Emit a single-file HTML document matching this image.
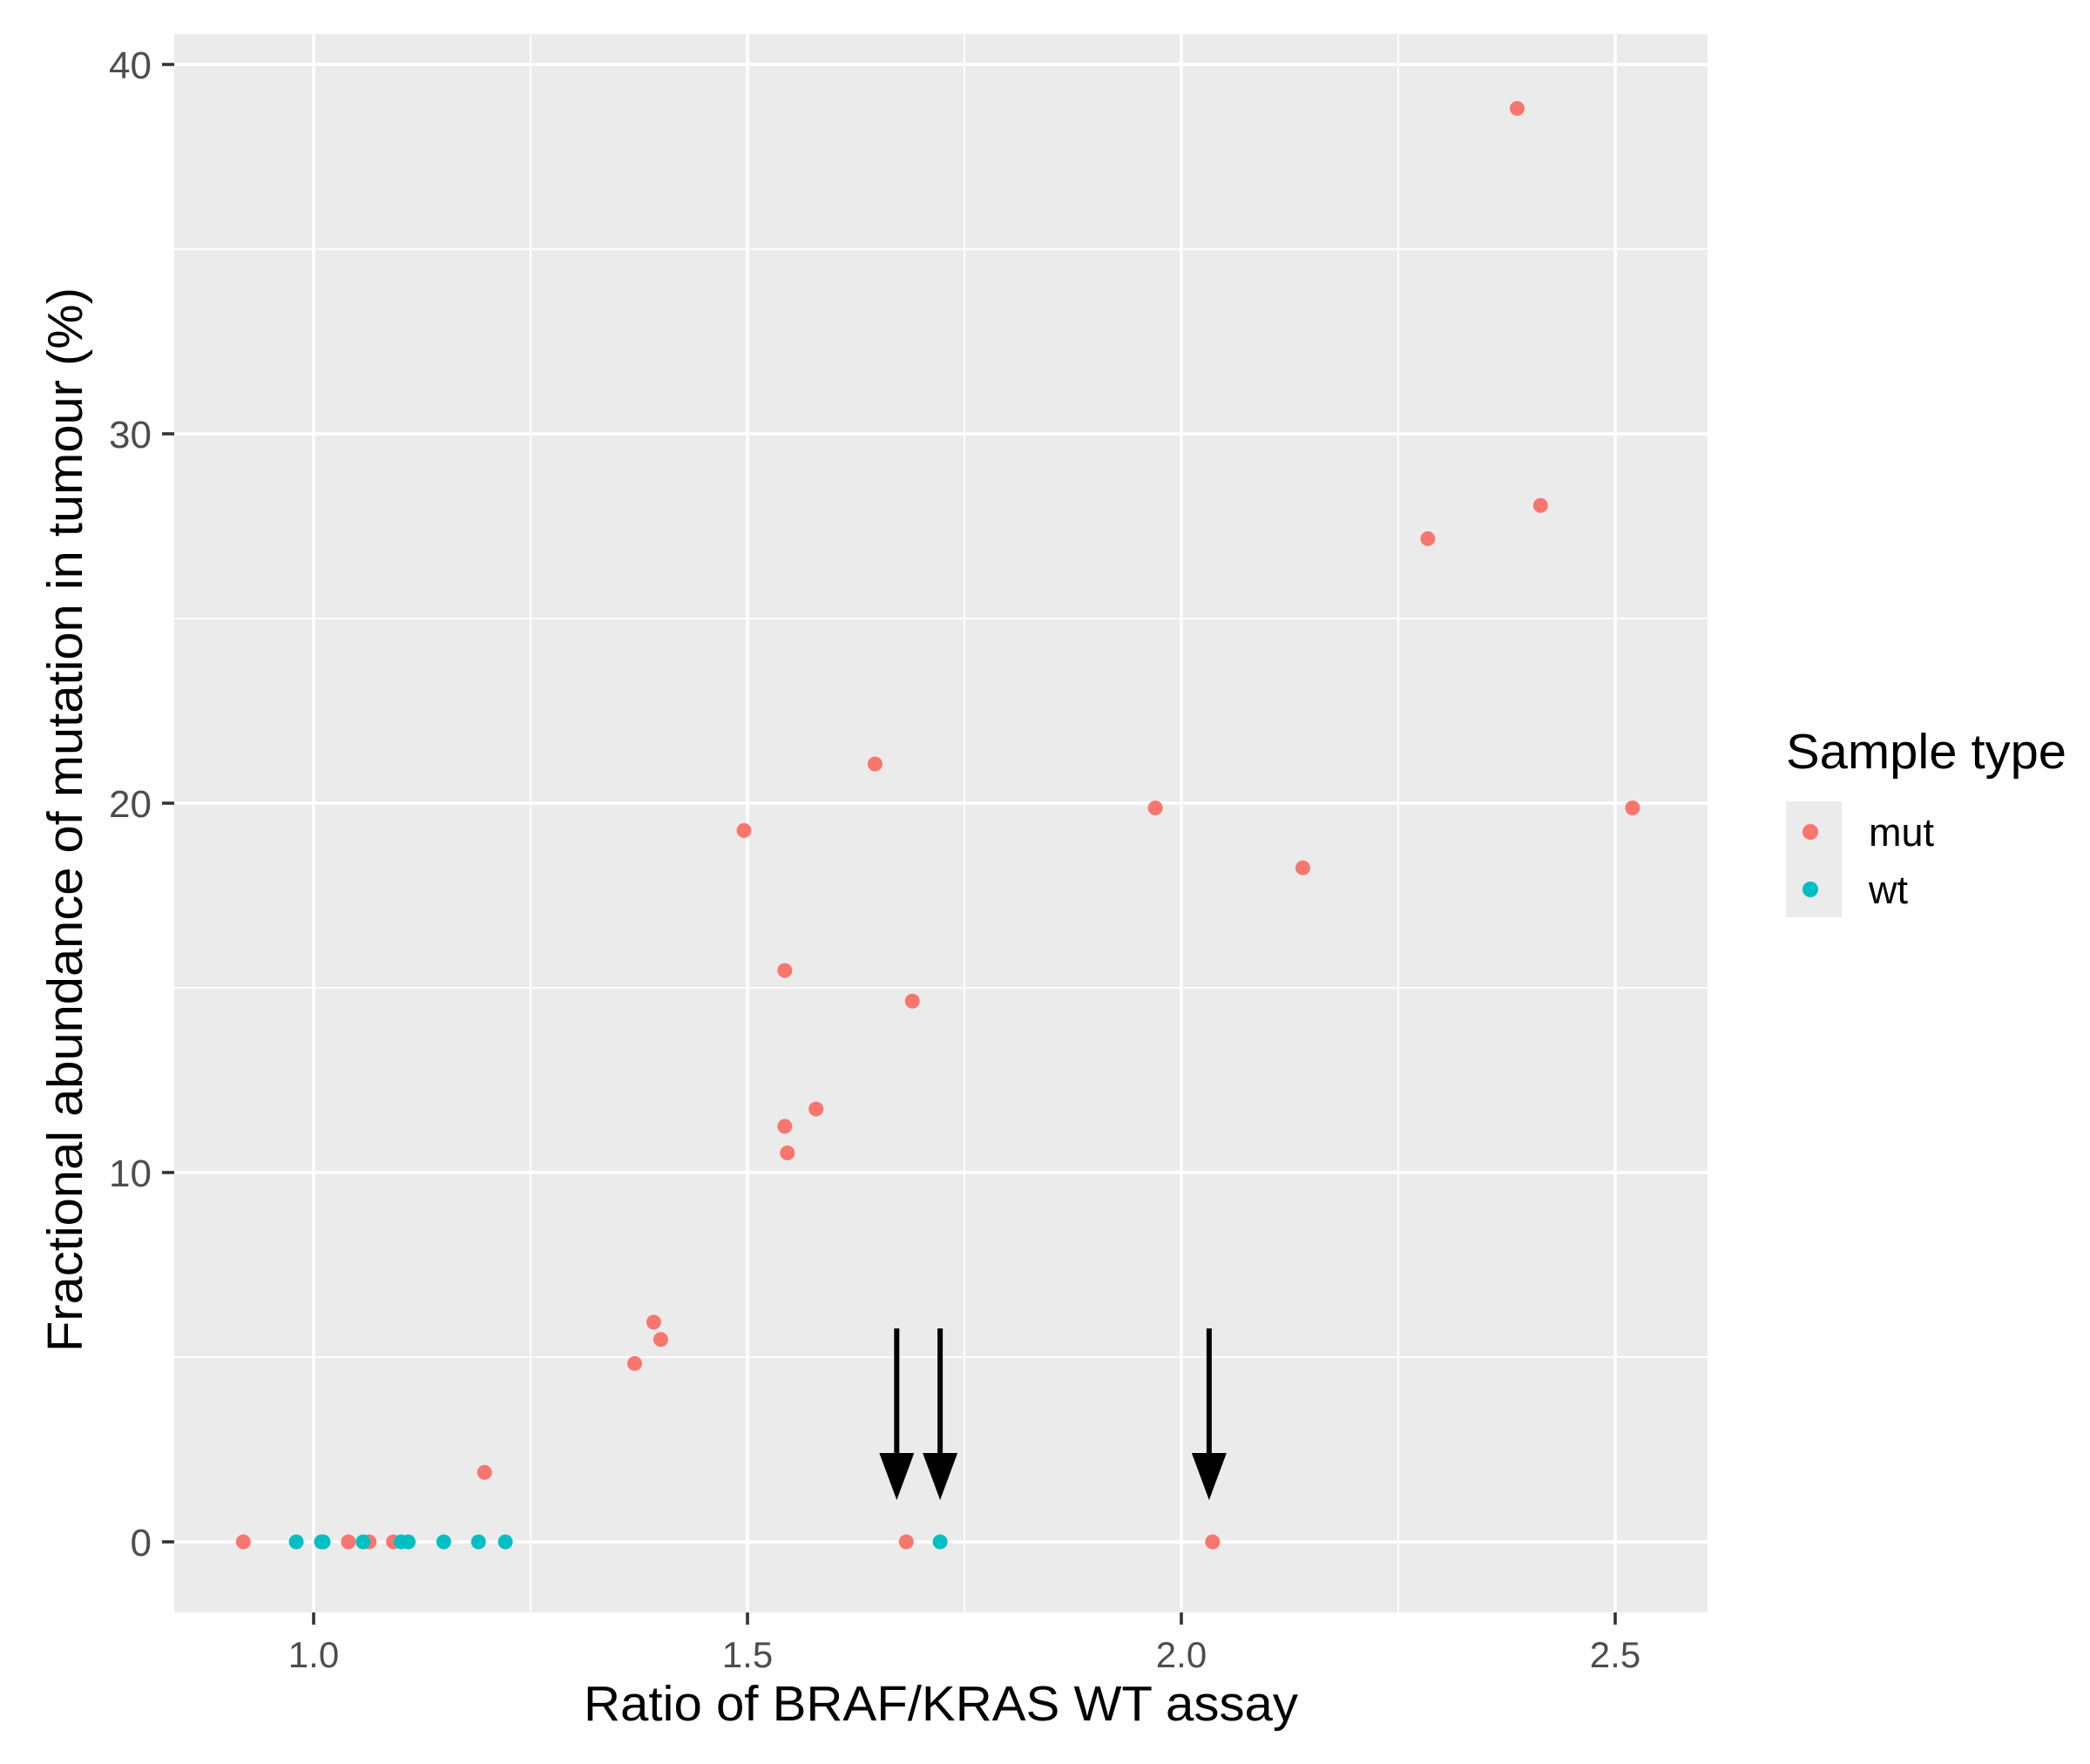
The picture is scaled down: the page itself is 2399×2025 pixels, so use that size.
<!DOCTYPE html>
<html><head><meta charset="utf-8"><style>
html,body{margin:0;padding:0;background:#fff;}
svg{display:block;font-family:"Liberation Sans",Arial,sans-serif;}
</style></head><body>
<svg id="chart" width="2399" height="2025" viewBox="0 0 2399 2025">
<rect x="0" y="0" width="2399" height="2025" fill="#fff"/>
<g id="panel"></g>
<g id="axes"></g>
<text x="1080" y="1975" text-anchor="middle" font-size="57" fill="#000" textLength="820" lengthAdjust="spacingAndGlyphs">Ratio of BRAF/KRAS WT assay</text>
<text transform="translate(94,941) rotate(-90)" text-anchor="middle" font-size="57" fill="#000" textLength="1222" lengthAdjust="spacingAndGlyphs">Fractional abundance of mutation in tumour (%)</text>
<g>
<text x="2050" y="882" font-size="57" fill="#000" textLength="322" lengthAdjust="spacingAndGlyphs">Sample type</text>
<rect x="2050" y="920" width="64" height="133" fill="#ebebeb"/>
<circle cx="2078" cy="955" r="9" fill="#F8766D"/>
<circle cx="2078" cy="1021" r="9" fill="#00BFC4"/>
<text x="2145" y="971" font-size="45" fill="#000">mut</text>
<text x="2145" y="1037" font-size="45" fill="#000">wt</text>
</g>
</svg>
<script>
const mutX = [0.919,1.04,1.064,1.092,1.197,1.37,1.392,1.40,1.496,1.543,1.543,1.546,1.579,1.647,1.69,1.683,1.97,2.036,2.14,2.284,2.387,2.414,2.52];
const mutY = [0,0,0,0,1.88,4.83,5.95,5.48,19.26,15.47,11.25,10.53,11.72,21.06,14.64,0,19.87,0,18.25,27.16,38.81,28.06,19.87];
const wtX = [0.98,1.009,1.011,1.057,1.101,1.109,1.15,1.19,1.221,1.722];
const wtY = [0,0,0,0,0,0,0,0,0,0];
const xTicks = [1.0,1.5,2.0,2.5];
const xTickLabels = ["1.0","1.5","2.0","2.5"];
const xMinor = [1.25,1.75,2.25];
const yTicks = [0,10,20,30,40];
const yTickLabels = ["0","10","20","30","40"];
const yMinor = [5,15,25,35];
const arrowX = [1.672,1.722,2.032];

const PL=200,PR=1960,PT=39,PB=1851;
function sx(v){return 360+(v-1.0)*996;}
function sy(v){return 1770-v*42.4;}
const NS="http://www.w3.org/2000/svg";
function mk(tag,attrs,parent){const e=document.createElementNS(NS,tag);for(const k in attrs)e.setAttribute(k,attrs[k]);parent.appendChild(e);return e;}
const panel=document.getElementById('panel');
const axes=document.getElementById('axes');
const bg=mk('rect',{x:PL,y:PT,width:PR-PL,height:PB-PT,fill:'#ebebeb'},panel);


xMinor.forEach(v=>{const l=mk('line',{x1:sx(v),x2:sx(v),y1:PT,y2:PB,stroke:'#fff','stroke-width':1.8},panel);

});
yMinor.forEach(v=>{const l=mk('line',{x1:PL,x2:PR,y1:sy(v),y2:sy(v),stroke:'#fff','stroke-width':1.8},panel);

});
xTicks.forEach((v,i)=>{const l=mk('line',{x1:sx(v),x2:sx(v),y1:PT,y2:PB,stroke:'#fff','stroke-width':3.6},panel);


const t=mk('line',{x1:sx(v),x2:sx(v),y1:PB,y2:PB+14,stroke:'#333','stroke-width':3.6},axes);


const tx=mk('text',{x:sx(v),y:1914,'text-anchor':'middle','font-size':42,fill:'#4d4d4d'},axes);
tx.textContent=xTickLabels[i];

});
yTicks.forEach((v,i)=>{const l=mk('line',{x1:PL,x2:PR,y1:sy(v),y2:sy(v),stroke:'#fff','stroke-width':3.6},panel);


const t=mk('line',{x1:PL-14,x2:PL,y1:sy(v),y2:sy(v),stroke:'#333','stroke-width':3.6},axes);


const tx=mk('text',{x:174,y:sy(v)+16,'text-anchor':'end','font-size':44,fill:'#4d4d4d'},axes);
tx.textContent=yTickLabels[i];

});
mutX.forEach((v,i)=>{const c=mk('circle',{cx:sx(v),cy:sy(mutY[i]),r:8.5,fill:'#F8766D'},panel);

});
wtX.forEach((v,i)=>{const c=mk('circle',{cx:sx(v),cy:sy(wtY[i]),r:8.5,fill:'#00BFC4'},panel);

});
arrowX.forEach(v=>{const x=sx(v);const g=mk('g',{},panel);


mk('line',{x1:x,x2:x,y1:1525,y2:1680,stroke:'#000','stroke-width':6},g);
mk('polygon',{points:`${x-20},1668 ${x+20},1668 ${x},1722`,fill:'#000'},g);});
</script>
</body></html>
